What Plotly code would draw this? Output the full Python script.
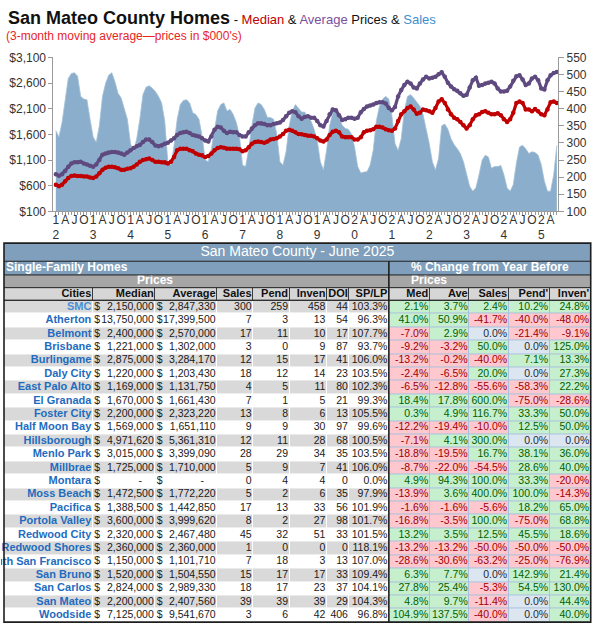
import plotly.graph_objects as go

# ---------------- chart data: 3-month moving averages, Jan 2012 .. Jun 2025 ----------------
START_YEAR = 2012
median_k = [
    620, 590, 620, 685, 750, 790, 800, 790, 790, 780, 780, 760,
    750, 780, 845, 910, 950, 970, 970, 960, 940, 910, 910, 930,
    940, 970, 1015, 1065, 1100, 1115, 1130, 1100, 1065, 1065, 1055, 1055,
    1035, 1065, 1160, 1290, 1320, 1320, 1320, 1290, 1270, 1225, 1205, 1195,
    1160, 1180, 1225, 1290, 1335, 1350, 1340, 1320, 1320, 1320, 1320, 1310,
    1270, 1290, 1350, 1415, 1450, 1460, 1450, 1435, 1460, 1500, 1510, 1525,
    1560, 1605, 1670, 1690, 1670, 1640, 1605, 1600, 1590, 1575, 1575, 1560,
    1525, 1480, 1460, 1500, 1590, 1650, 1670, 1640, 1560, 1545, 1545, 1545,
    1500, 1500, 1545, 1640, 1670, 1680, 1700, 1750, 1750, 1735, 1700, 1680,
    1670, 1715, 1860, 1990, 2050, 2115, 2145, 2085, 2000, 2020, 2085, 2070,
    2050, 2020, 2115, 2240, 2285, 2210, 2085, 1990, 1925, 1895, 1840, 1780,
    1715, 1780, 1895, 1970, 1990, 2035, 2050, 2020, 1990, 1990, 2010, 1970,
    1895, 1840, 1895, 2020, 2210, 2240, 2210, 2085, 2085, 2050, 2095, 2050,
    1990, 1970, 2085, 2225, 2240, 2210,
]
average_k = [
    825, 793, 825, 888, 970, 1035, 1055, 1055, 1065, 1035, 1015, 990,
    970, 1015, 1100, 1205, 1225, 1245, 1255, 1255, 1245, 1225, 1205, 1245,
    1290, 1335, 1370, 1395, 1450, 1500, 1500, 1450, 1385, 1370, 1385, 1415,
    1435, 1480, 1525, 1590, 1625, 1640, 1650, 1625, 1590, 1575, 1560, 1525,
    1480, 1460, 1560, 1690, 1750, 1735, 1670, 1625, 1650, 1640, 1640, 1590,
    1560, 1560, 1640, 1715, 1780, 1815, 1815, 1800, 1780, 1780, 1800, 1815,
    1830, 1880, 1955, 2020, 2050, 2030, 1955, 1905, 1940, 1955, 1925, 1925,
    1860, 1780, 1755, 1860, 1990, 2085, 2070, 1970, 1880, 1895, 1925, 1925,
    1905, 1925, 2030, 2095, 2145, 2160, 2180, 2210, 2225, 2225, 2200, 2115,
    2070, 2135, 2340, 2465, 2560, 2625, 2590, 2515, 2495, 2590, 2670, 2720,
    2690, 2705, 2720, 2770, 2810, 2720, 2605, 2530, 2480, 2450, 2400, 2350,
    2370, 2515, 2655, 2705, 2545, 2560, 2590, 2605, 2625, 2590, 2495, 2435,
    2435, 2450, 2530, 2645, 2730, 2750, 2670, 2560, 2590, 2690, 2720, 2655,
    2495, 2475, 2655, 2750, 2795, 2815,
]
sales = [
    336, 317, 360, 426, 488, 503, 505, 495, 436, 428, 426, 369,
    317, 302, 350, 436, 474, 498, 505, 479, 445, 431, 402, 369,
    298, 274, 312, 369, 441, 463, 467, 460, 450, 436, 417, 364,
    245, 235, 293, 369, 412, 424, 426, 417, 388, 383, 369, 321,
    250, 245, 283, 345, 393, 412, 417, 393, 398, 383, 360, 321,
    235, 231, 283, 350, 402, 417, 412, 398, 374, 374, 369, 326,
    245, 235, 274, 350, 393, 412, 402, 390, 390, 374, 364, 340,
    307, 245, 221, 278, 350, 388, 396, 374, 352, 342, 340, 326,
    288, 231, 212, 215, 216, 235, 278, 364, 407, 428, 436, 428,
    379, 298, 278, 312, 393, 436, 441, 431, 419, 407, 383, 345,
    298, 245, 221, 255, 350, 355, 340, 312, 295, 283, 269, 245,
    212, 173, 159, 169, 207, 250, 264, 259, 226, 231, 231, 234,
    207, 169, 159, 178, 240, 288, 293, 283, 269, 274, 272, 264,
    236, 188, 159, 159, 207, 293,
]
months = list(range(len(median_k)))
quarter_letters = ["A", "J", "O"]

# ---------------- table data ----------------
table_title = "San Mateo County - June 2025"
cities = ["SMC", "Atherton", "Belmont", "Brisbane", "Burlingame", "Daly City",
          "East Palo Alto", "El Granada", "Foster City", "Half Moon Bay",
          "Hillsborough", "Menlo Park", "Millbrae", "Montara", "Moss Beach",
          "Pacifica", "Portola Valley", "Redwood City", "Redwood Shores",
          "South San Francisco", "San Bruno", "San Carlos", "San Mateo", "Woodside"]
median_price = [2150000, 13750000, 2400000, 1221000, 2875000, 1220000, 1169000,
                1670000, 2200000, 1569000, 4971620, 3015000, 1725000, None,
                1472500, 1388500, 3600000, 2320000, 2360000, 1150000, 1520000,
                2824000, 2200000, 7125000]
average_price = [2847330, 17399500, 2570000, 1302000, 3284170, 1203430, 1131750,
                 1661430, 2323220, 1651110, 5361310, 3399090, 1710000, None,
                 1772220, 1442850, 3999620, 2467480, 2360000, 1101710, 1504550,
                 2989330, 2407560, 9541670]
sales_n = [300, 7, 17, 3, 12, 18, 4, 7, 13, 9, 12, 28, 5, 0, 5, 17, 8, 45, 1, 7, 15, 18, 39, 3]
pend_n = [259, 3, 11, 0, 15, 12, 5, 1, 8, 9, 11, 29, 9, 4, 2, 13, 2, 32, 0, 18, 17, 17, 39, 6]
inven_n = [458, 13, 10, 9, 17, 14, 11, 5, 6, 30, 28, 34, 7, 4, 6, 33, 27, 51, 0, 3, 17, 23, 39, 42]
doi_n = [44, 54, 17, 87, 41, 23, 80, 21, 13, 97, 68, 35, 41, 0, 35, 56, 98, 33, 0, 13, 33, 37, 29, 406]
sp_lp = [103.3, 96.3, 107.7, 93.7, 106.0, 103.5, 102.3, 99.3, 105.5, 99.6, 100.5, 103.5,
         106.0, 0.0, 97.9, 101.9, 101.7, 101.5, 118.1, 107.0, 109.4, 104.1, 104.3, 96.8]
chg_med = [2.1, 41.0, -7.0, -9.2, -13.2, -2.4, -6.5, 18.4, 0.3, -12.2, -7.1, -18.8,
           -8.7, 4.9, -13.9, -1.6, -16.8, 13.2, -13.2, -28.6, 6.3, 27.8, 4.8, 104.9]
chg_ave = [3.7, 50.9, 2.9, -3.2, -0.2, -6.5, -12.8, 17.8, 4.9, -19.4, 4.1, -19.5,
           -22.0, 94.3, 3.6, -1.6, -3.5, 3.5, -13.2, -30.6, 7.7, 25.4, 9.7, 137.5]
chg_sales = [2.4, -41.7, 0.0, 50.0, -40.0, 20.0, -55.6, 600.0, 116.7, -10.0, 300.0, 16.7,
             -54.5, 100.0, 400.0, -5.6, 100.0, 12.5, -50.0, -63.2, 0.0, -5.3, -11.4, -40.0]
chg_pend = [10.2, -40.0, -21.4, 0.0, 7.1, 0.0, -58.3, -75.0, 33.3, 12.5, 0.0, 38.1,
            28.6, 33.3, 100.0, 18.2, -75.0, 45.5, -50.0, -25.0, 142.9, 54.5, 0.0, 0.0]
chg_inven = [24.8, -48.0, -9.1, 125.0, 13.3, 27.3, 22.2, -28.6, 50.0, 50.0, 0.0, 36.0,
             40.0, -20.0, -14.3, 65.0, 68.8, 18.6, -50.0, -76.9, 21.4, 130.0, 44.4, 40.0]
left_headers = ["Cities", "Median", "Average", "Sales", "Pend", "Inven", "DOI", "SP/LP"]
right_headers = ["Med", "Ave", "Sales", "Pend'", "Inven'"]

# ---------------- styles / layout geometry (pixels) ----------------
W, H = 605, 634
FONT = "Liberation Sans, Arial, sans-serif"
RED, PURPLE, BLUE_AREA = "#c00000", "#5f4a80", "#8aaecb"
AXIS_C = "#9a9a9a"
COL_EDGES = [3, 92, 154.5, 216.5, 252.5, 289, 326.5, 349, 388.5, 429.5, 469, 508.5, 549.5, 590.7]
SPLIT = 8                      # index of the edge between left and right sections
ROW_TOP = [241.5, 260, 274, 287, 300]   # title, SF, Prices, header, first data row
TBL_BOTTOM = 629
ROW_H = (TBL_BOTTOM - ROW_TOP[4]) / len(cities)
BODY_SIZE = 10.5
HEAD_SIZE = 11

PALETTE = ["#ffffff", "#d9d9d9", "#c6efce", "#ffc7ce", "#dce6f1",
           "#7f9fbc", "#a6a6a6", "#d6d6d6", "#3c3c3c", "#a9c1dd"]
CS = []
for i, c in enumerate(PALETTE):
    CS += [[i / len(PALETTE), c], [(i + 1) / len(PALETTE), c]]

fig = go.Figure()

# ---------------- chart ----------------
fig.add_trace(go.Scatter(x=months, y=sales, mode="lines", fill="tozeroy",
                         fillcolor=BLUE_AREA, line=dict(color="#a3c0d7", width=0.8),
                         xaxis="x", yaxis="y", hoverinfo="skip", showlegend=False))
fig.add_trace(go.Scatter(x=months, y=average_k, mode="lines+markers",
                         line=dict(color=PURPLE, width=3.2), marker=dict(size=4.5, color=PURPLE),
                         xaxis="x", yaxis="y2", hoverinfo="skip", showlegend=False))
fig.add_trace(go.Scatter(x=months, y=median_k, mode="lines+markers",
                         line=dict(color=RED, width=3.2), marker=dict(size=4.5, color=RED),
                         xaxis="x", yaxis="y2", hoverinfo="skip", showlegend=False))

tickvals, ticktext = [], []
for m in range(0, len(months), 3):
    yr = START_YEAR + m // 12
    q = (m % 12) // 3
    tickvals.append(m)
    ticktext.append(f"{str(yr)[2]}<br>{str(yr)[3]}" if q == 0 else quarter_letters[q - 1])

# ---------------- table helpers ----------------
def sign_code(v):
    return 2 if v > 0 else (3 if v < 0 else 4)

def sign_color(v):
    return "#006100" if v > 0 else ("#9c0006" if v < 0 else "#1f2a36")

def money(v):
    return "-\u2007\u2007" if v is None else f"{v:,}"

def heat(xe, ye, z, gap=0):
    fig.add_trace(go.Heatmap(x=xe, y=ye, z=z, colorscale=CS, zmin=-0.5, zmax=len(PALETTE) - 0.5,
                             showscale=False, xgap=gap, ygap=gap, hoverinfo="skip",
                             xaxis="x3", yaxis="y3"))

def text(xs, ys, ts, pos, size, color, weight="normal"):
    fig.add_trace(go.Scatter(x=xs, y=ys, text=ts, mode="text", textposition=pos,
                             textfont=dict(size=size, color=color, family=FONT, weight=weight),
                             xaxis="x3", yaxis="y3", hoverinfo="skip", showlegend=False))

n_rows = len(cities)
row_edges = [ROW_TOP[4] + i * ROW_H for i in range(n_rows + 1)]
row_mid = [(row_edges[i] + row_edges[i + 1]) / 2 for i in range(n_rows)]
ncol = len(COL_EDGES) - 1

# backgrounds
heat([COL_EDGES[SPLIT], COL_EDGES[-1]], [ROW_TOP[4], TBL_BOTTOM], [[9]])
heat([COL_EDGES[0], COL_EDGES[-1]], [ROW_TOP[3], ROW_TOP[4]], [[8]])
heat([COL_EDGES[0], COL_EDGES[-1]], [ROW_TOP[0], ROW_TOP[1]], [[5]])
heat([COL_EDGES[0], COL_EDGES[SPLIT], COL_EDGES[-1]], [ROW_TOP[1], ROW_TOP[2]], [[5, 5]])
heat([COL_EDGES[0], COL_EDGES[-1]], [ROW_TOP[2], ROW_TOP[3]], [[6]])
heat(COL_EDGES, [ROW_TOP[3], ROW_TOP[4]], [[7] * ncol], gap=1)

chg_cols = [chg_med, chg_ave, chg_sales, chg_pend, chg_inven]
z = []
for r in range(n_rows):
    base = 1 if r % 2 == 0 else 0
    z.append([base] * SPLIT + [sign_code(col[r]) for col in chg_cols])
heat(COL_EDGES, row_edges, z, gap=1)

# header texts
text([(COL_EDGES[0] + COL_EDGES[-1]) / 2], [(ROW_TOP[0] + ROW_TOP[1]) / 2], [table_title],
     "middle center", 14, "white")
text([COL_EDGES[0] + 2], [(ROW_TOP[1] + ROW_TOP[2]) / 2], ["Single-Family Homes"],
     "middle right", 12, "white", "bold")
text([(COL_EDGES[SPLIT] + COL_EDGES[-1]) / 2], [(ROW_TOP[1] + ROW_TOP[2]) / 2],
     ["% Change from Year Before"], "middle center", 12, "white", "bold")
text([(COL_EDGES[1] + COL_EDGES[3]) / 2, (COL_EDGES[SPLIT] + COL_EDGES[SPLIT + 2]) / 2],
     [(ROW_TOP[2] + ROW_TOP[3]) / 2] * 2, ["Prices", "Prices"], "middle center", 12, "white", "bold")
hdrs = left_headers + right_headers
text([COL_EDGES[i + 1] - 1.5 for i in range(ncol)], [(ROW_TOP[3] + ROW_TOP[4]) / 2] * ncol,
     hdrs, "middle left", HEAD_SIZE, "#111111", "bold")

# body texts
text([COL_EDGES[1] - 1.5] * n_rows, row_mid, cities, "middle left", HEAD_SIZE,
     ["#4a8fd6"] + ["#1f6cbf"] * (n_rows - 1), "bold")
text([COL_EDGES[1] + 1.5] * n_rows + [COL_EDGES[2] + 1.5] * n_rows, row_mid * 2,
     ["$"] * (2 * n_rows), "middle right", BODY_SIZE, "#1a1a1a")
body_cols = [[money(v) for v in median_price], [money(v) for v in average_price],
             [str(v) for v in sales_n], [str(v) for v in pend_n], [str(v) for v in inven_n],
             [str(v) for v in doi_n], [f"{v:.1f}%" for v in sp_lp]]
bx, by, bt = [], [], []
for ci, col in enumerate(body_cols):
    bx += [COL_EDGES[ci + 2] - 1.5] * n_rows
    by += row_mid
    bt += col
text(bx, by, bt, "middle left", BODY_SIZE, "#1a1a1a")
px_, py_, pt_, pc_ = [], [], [], []
for ci, col in enumerate(chg_cols):
    px_ += [COL_EDGES[SPLIT + ci + 1] - 1.5] * n_rows
    py_ += row_mid
    pt_ += [f"{v:.1f}%" for v in col]
    pc_ += [sign_color(v) for v in col]
text(px_, py_, pt_, "middle left", BODY_SIZE, pc_)

# table rules (decoration)
shapes = []
DARK = "#1e1e1e"
for yv in ROW_TOP[1:]:
    shapes.append(dict(type="line", xref="x3", yref="y3", x0=COL_EDGES[0], x1=COL_EDGES[-1],
                       y0=yv, y1=yv, line=dict(color=DARK, width=1)))
shapes.append(dict(type="line", xref="x3", yref="y3", x0=COL_EDGES[SPLIT], x1=COL_EDGES[SPLIT],
                   y0=ROW_TOP[1], y1=TBL_BOTTOM, line=dict(color=DARK, width=1.6)))
shapes.append(dict(type="rect", xref="x3", yref="y3", x0=COL_EDGES[0], x1=COL_EDGES[-1],
                   y0=ROW_TOP[0], y1=TBL_BOTTOM, line=dict(color=DARK, width=1.6)))

# ---------------- titles ----------------
annotations = [
    dict(xref="paper", yref="paper", x=5 / W, y=1 - 11 / H, xanchor="left", yanchor="middle",
         showarrow=False,
         text=("<b>San Mateo County Homes</b><span style='font-size:13px'> - "
               f"<span style='color:{RED}'>Median</span> &amp; "
               f"<span style='color:#7a4f9e'>Average</span> Prices &amp; "
               "<span style='color:#3d8fd1'>Sales</span></span>"),
         font=dict(size=18, color="#111111", family=FONT)),
    dict(xref="paper", yref="paper", x=3 / W, y=1 - 30 / H, xanchor="left", yanchor="middle",
         showarrow=False, text="(3-month moving average\u2014prices in $000's)",
         font=dict(size=12, color="#e8251f", family=FONT)),
]

ytop, ybot = 1 - 51.5 / H, 1 - 209 / H
fig.update_layout(
    width=W, height=H, margin=dict(l=0, r=0, t=0, b=0),
    paper_bgcolor="white", plot_bgcolor="white", showlegend=False,
    xaxis=dict(domain=[52.5 / W, 558 / W], range=[-0.77, 161.4], tickvals=tickvals,
               ticktext=ticktext, ticks="outside", ticklen=4, tickcolor=AXIS_C,
               showline=True, linecolor=AXIS_C, showgrid=False, zeroline=False,
               tickfont=dict(size=12, color="#333333", family=FONT), tickangle=0,
               ticklabelstandoff=-7,
               minor=dict(dtick=1, tick0=0, ticks="outside", ticklen=3, tickcolor=AXIS_C),
               anchor="y", fixedrange=True),
    yaxis=dict(domain=[ybot, ytop], range=[100, 550], tick0=100, dtick=50, side="right",
               ticks="outside", ticklen=5, tickcolor=AXIS_C, showline=True, linecolor=AXIS_C,
               showgrid=False, zeroline=False, anchor="x",
               tickfont=dict(size=12, color="#333333", family=FONT), fixedrange=True),
    yaxis2=dict(overlaying="y", side="left", range=[100, 3100], tick0=100, dtick=500,
                tickprefix="$", tickformat=",", ticks="outside", ticklen=4, tickcolor=AXIS_C,
                showline=True, linecolor=AXIS_C, showgrid=False, zeroline=False, anchor="x",
                tickfont=dict(size=12, color="#333333", family=FONT), fixedrange=True),
    xaxis3=dict(domain=[0, 1], range=[0, W], visible=False, fixedrange=True, anchor="y3"),
    yaxis3=dict(domain=[0, 1 - 240 / H], range=[H, 240], visible=False, fixedrange=True,
                anchor="x3"),
    shapes=shapes, annotations=annotations,
)

fig.write_html("out.html", config={"displayModeBar": False},
               post_script="document.body.style.margin='0';document.body.style.overflow='hidden';")
